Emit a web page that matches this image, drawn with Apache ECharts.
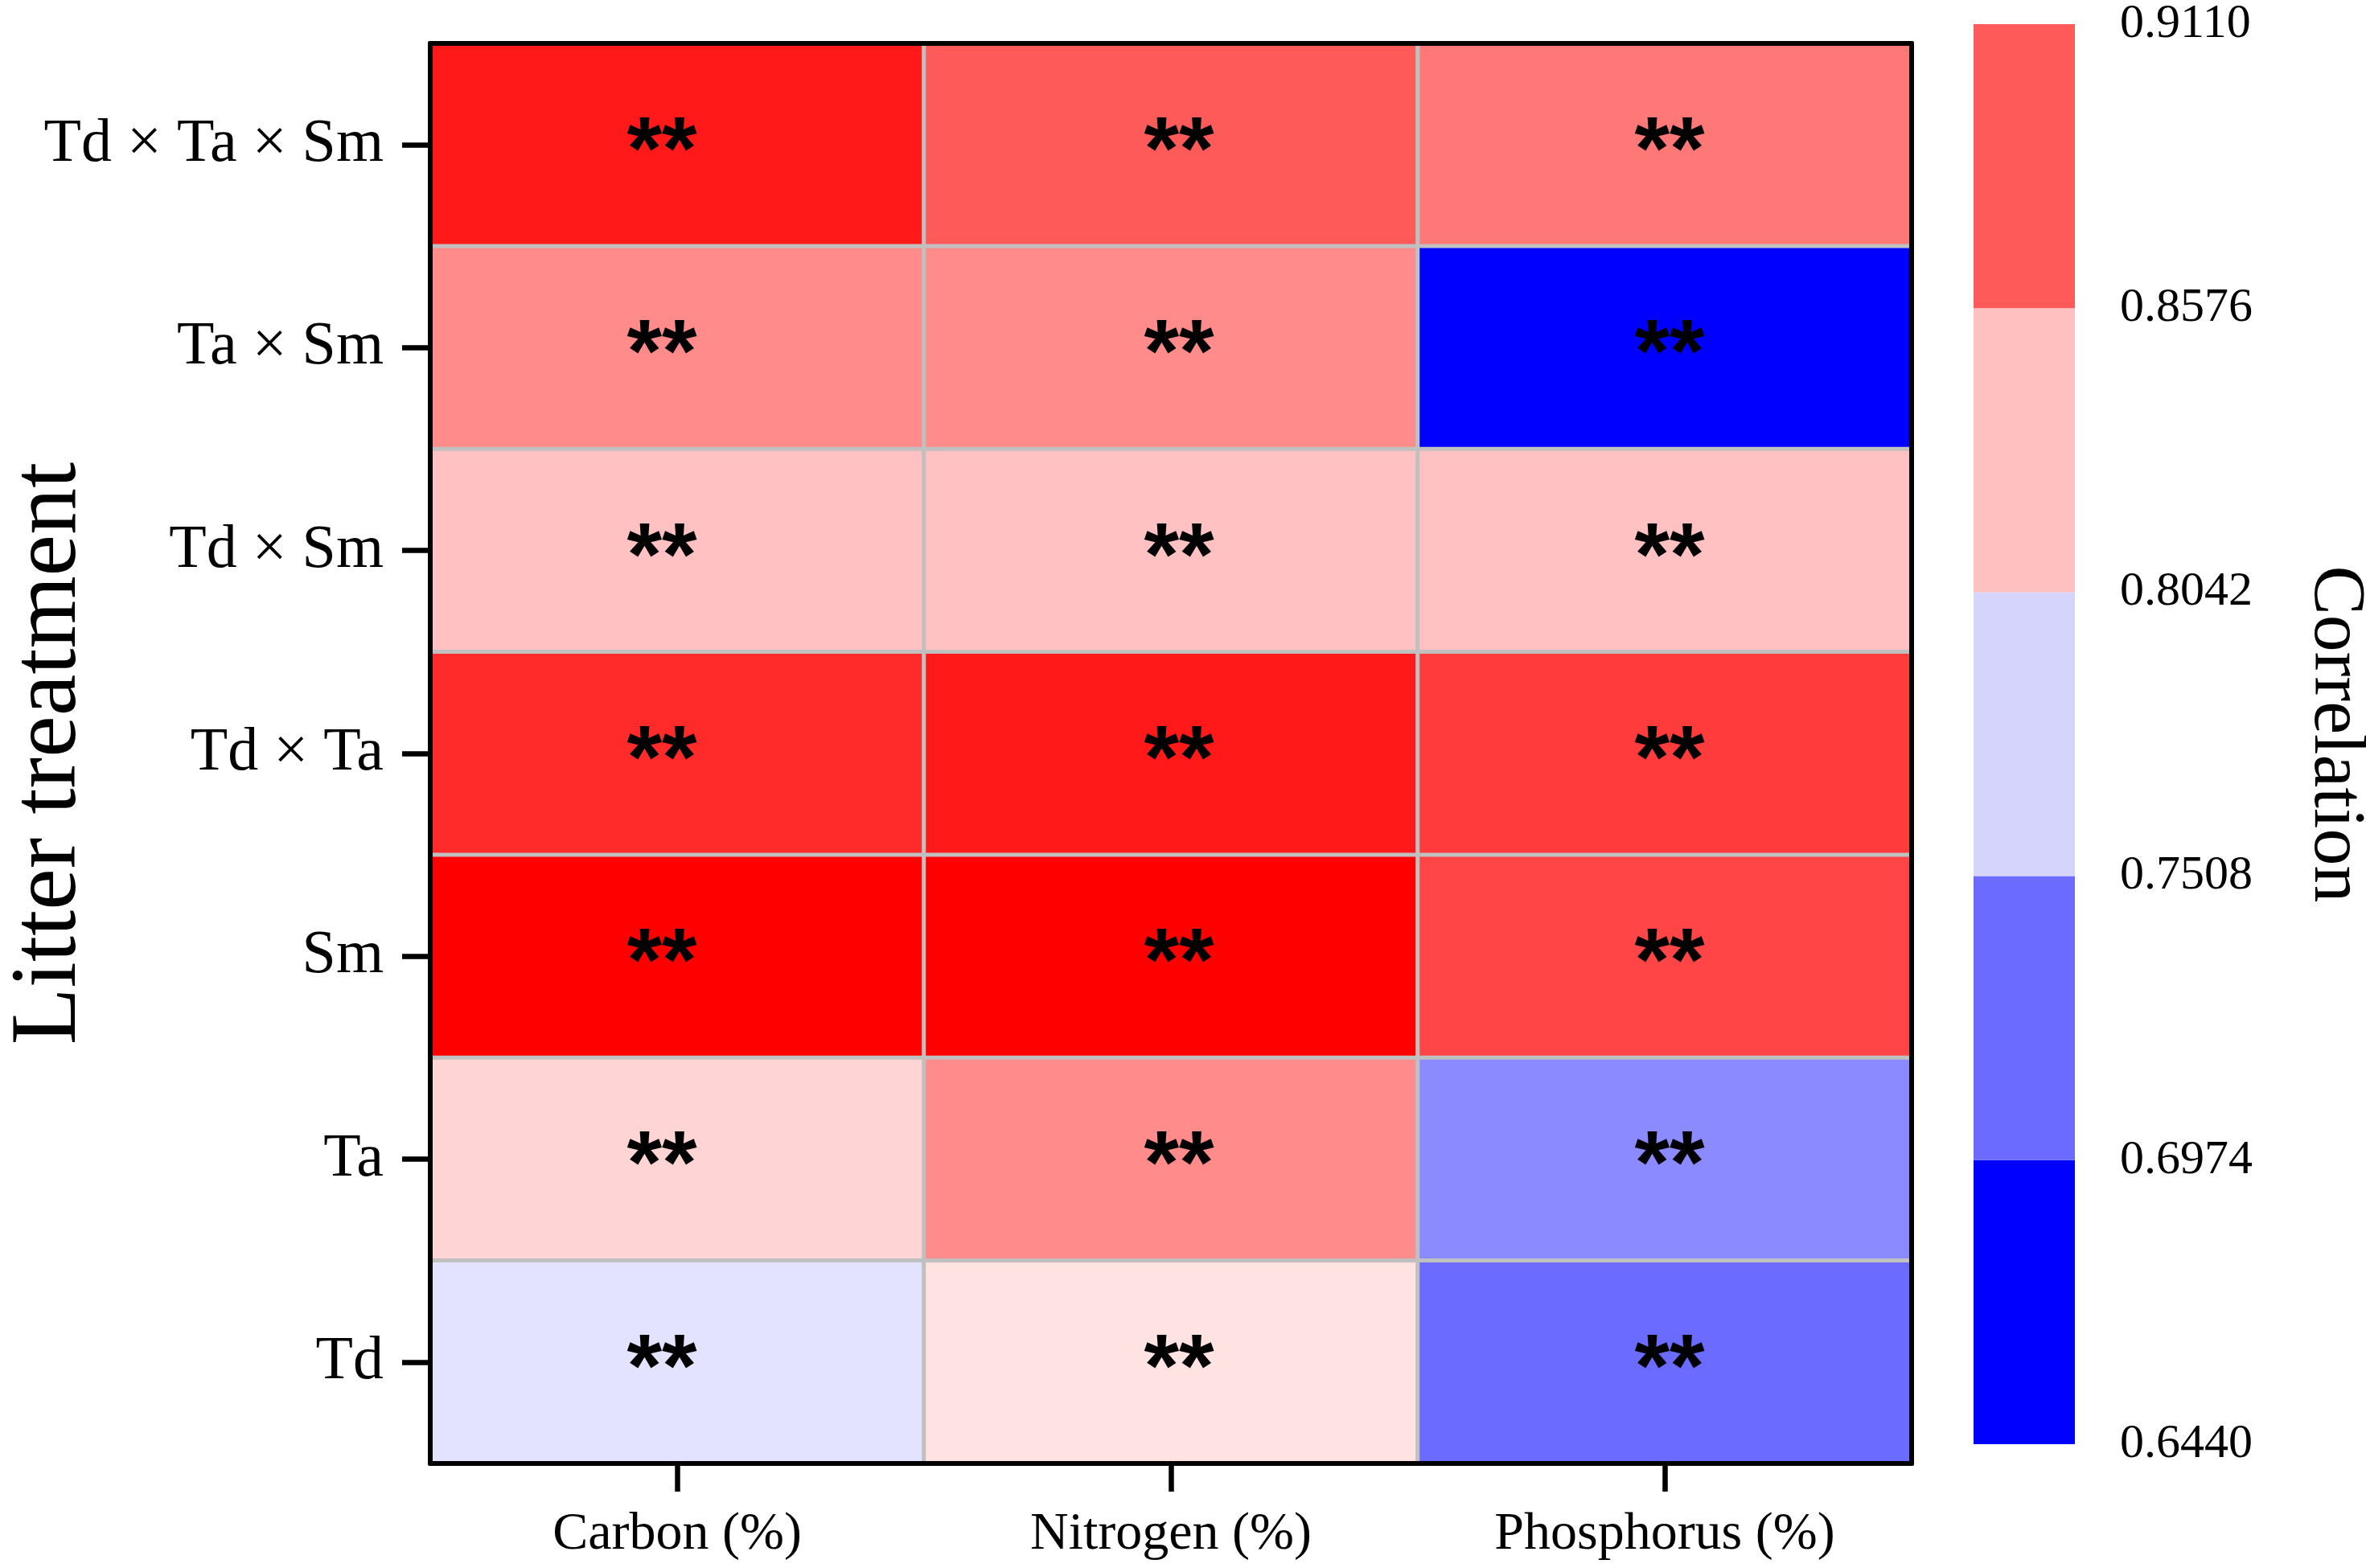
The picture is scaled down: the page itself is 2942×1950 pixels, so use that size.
<!DOCTYPE html>
<html>
<head>
<meta charset="utf-8">
<script src="https://cdn.jsdelivr.net/npm/echarts@6/dist/echarts.min.js"></script>
<style>
html,body{margin:0;padding:0;background:#fff;}
#chart{width:2942px;height:1950px;}
</style>
</head>
<body>
<div id="chart"></div>
<script>
// Row categories (top to bottom) and column categories
const rows = ['Td × Ta × Sm', 'Ta × Sm', 'Td × Sm', 'Td × Ta', 'Sm', 'Ta', 'Td'];
const cols = ['Carbon (%)', 'Nitrogen (%)', 'Phosphorus (%)'];

// Correlation values per column, in row order
const carbon     = [0.898, 0.838, 0.810, 0.889, 0.911, 0.800, 0.763];
const nitrogen   = [0.864, 0.838, 0.810, 0.898, 0.911, 0.838, 0.792];
const phosphorus = [0.848, 0.644, 0.810, 0.880, 0.875, 0.717, 0.700];

// Significance marks per column, in row order
const sigCarbon     = ['**', '**', '**', '**', '**', '**', '**'];
const sigNitrogen   = ['**', '**', '**', '**', '**', '**', '**'];
const sigPhosphorus = ['**', '**', '**', '**', '**', '**', '**'];

// Colour bar ticks (bottom to top) and bin colours (bottom to top)
const cbTicks  = ['0.6440', '0.6974', '0.7508', '0.8042', '0.8576', '0.9110'];
const cbColors = ['#0000FF', '#6B6BFF', '#D4D4FC', '#FFC0C0', '#FF5A5A'];

const valueMin = 0.644, valueMax = 0.911;

const columns = [carbon, nitrogen, phosphorus];
const sigs = [sigCarbon, sigNitrogen, sigPhosphorus];
// horizontal nudge of the significance marks in each column (style only)
const markNudge = [-19, 10, 6];

const serif = 'Liberation Serif';

const heatSeries = columns.map((col, ci) => ({
  type: 'heatmap',
  name: cols[ci],
  xAxisIndex: 0, yAxisIndex: 0,
  data: col.map((v, ri) => ({ value: [ci, ri, v], sig: sigs[ci][ri] })),
  itemStyle: { borderColor: '#C0C0C0', borderWidth: 5 },
  label: {
    show: true,
    formatter: p => p.data.sig,
    color: '#000',
    fontFamily: 'Liberation Sans',
    fontWeight: 'bold',
    fontSize: 112,
    offset: [markNudge[ci], 12]
  },
  emphasis: { disabled: true }
}));

const cbSeries = cbColors.map((c, i) => ({
  type: 'bar',
  xAxisIndex: 2,
  yAxisIndex: 2,
  stack: 'cb',
  barWidth: '100%',
  barCategoryGap: 0,
  silent: true,
  itemStyle: { color: c },
  data: [1]
}));

const chart = echarts.init(document.getElementById('chart'), null, { renderer: 'canvas' });
chart.setOption({
  animation: false,
  backgroundColor: '#ffffff',
  grid: [
    { left: 535, top: 54, width: 1842, height: 1766, containLabel: false, outerBoundsMode: 'none' },
    { left: 2454, top: 30, width: 126, height: 1766, containLabel: false, outerBoundsMode: 'none' }
  ],
  xAxis: [
    {
      type: 'category', gridIndex: 0, data: cols, position: 'bottom', z: 10,
      axisLine: { show: true, lineStyle: { color: '#000', width: 6 } },
      axisTick: { show: true, alignWithLabel: true, length: 35, lineStyle: { color: '#000', width: 6.5 } },
      axisLabel: { color: '#000', fontFamily: serif, fontSize: 66, margin: 56 },
      splitLine: { show: false }
    },
    {
      type: 'category', gridIndex: 0, data: cols, position: 'top', z: 10,
      axisLine: { show: true, lineStyle: { color: '#000', width: 6 } },
      axisTick: { show: false }, axisLabel: { show: false }, splitLine: { show: false }
    },
    {
      type: 'category', gridIndex: 1, data: ['cb'], show: false
    }
  ],
  yAxis: [
    {
      type: 'category', gridIndex: 0, data: rows, inverse: true, position: 'left', z: 10,
      axisLine: { show: true, lineStyle: { color: '#000', width: 6 } },
      axisTick: { show: true, alignWithLabel: true, length: 35, lineStyle: { color: '#000', width: 6.5 } },
      axisLabel: { color: '#000', fontFamily: serif, fontSize: 76, margin: 58 },
      splitLine: { show: false },
      name: 'Litter treatment', nameLocation: 'middle', nameRotate: 90, nameGap: 414,
      nameMoveOverlap: false,
      nameTextStyle: { color: '#000', fontFamily: serif, fontSize: 116 }
    },
    {
      type: 'category', gridIndex: 0, data: rows, inverse: true, position: 'right', z: 10,
      axisLine: { show: true, lineStyle: { color: '#000', width: 6 } },
      axisTick: { show: false }, axisLabel: { show: false }, splitLine: { show: false }
    },
    {
      type: 'value', gridIndex: 1, position: 'right', min: 0, max: cbColors.length, interval: 1,
      axisLine: { show: false }, axisTick: { show: false }, splitLine: { show: false },
      axisLabel: {
        color: '#000', fontFamily: serif, fontSize: 60, margin: 56,
        formatter: v => cbTicks[Math.round(v)]
      },
      name: 'Correlation', nameLocation: 'middle', nameRotate: -90, nameGap: 277,
      nameTextStyle: { color: '#000', fontFamily: serif, fontSize: 92 }
    }
  ],
  visualMap: [{
    type: 'continuous', show: false, seriesIndex: [0, 1, 2],
    min: valueMin, max: valueMax,
    inRange: { color: ['#0000FF', '#FFFFFF', '#FF0000'] }
  }],
  series: heatSeries.concat(cbSeries)
});
</script>
</body>
</html>
